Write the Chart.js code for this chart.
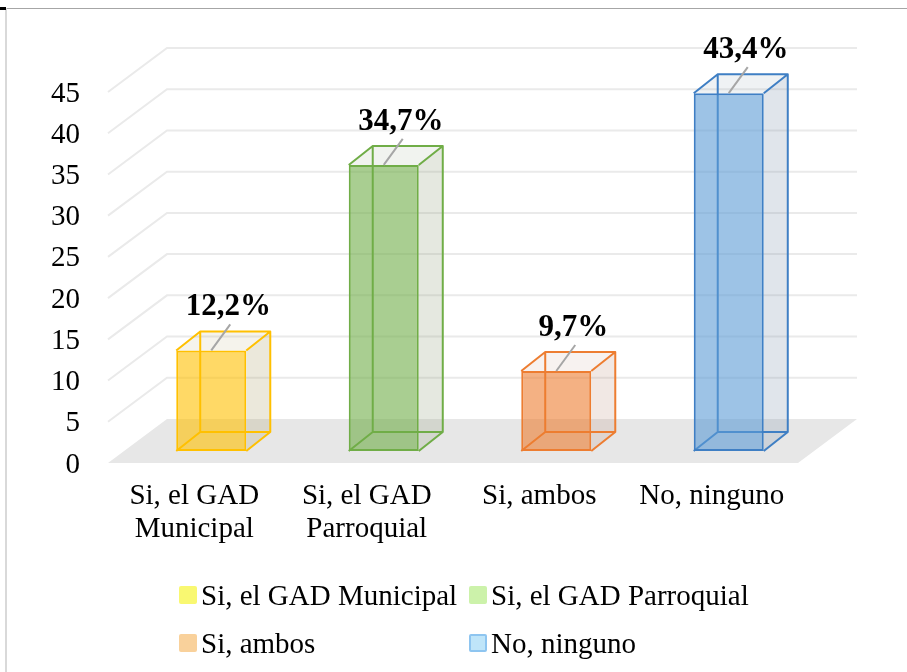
<!DOCTYPE html>
<html lang="es">

<head>
    <meta charset="UTF-8">
    <title>Gráfico de barras 3D</title>
    <script src="https://cdn.jsdelivr.net/npm/chart.js"></script>
    <style>
        body {
            margin: 0;
            padding: 0;
            background: #fff;
        }

        .wrap {
            position: relative;
            width: 907px;
            height: 672px;
            overflow: hidden;
        }

        canvas {
            position: absolute;
            left: 0;
            top: 0;
        }

        .frame-top {
            position: absolute;
            left: 5px;
            top: 8px;
            right: 0;
            height: 1px;
            background: #A6A6A6;
        }

        .frame-left {
            position: absolute;
            left: 5px;
            top: 8px;
            bottom: 0;
            width: 2px;
            background: #D9D9D9;
        }

        .frame-mark {
            position: absolute;
            left: 0;
            top: 7px;
            width: 6px;
            height: 3px;
            background: #000;
        }

        .legend {
            position: absolute;
            left: 179px;
            top: 571px;
            display: grid;
            grid-template-columns: 290px auto;
            grid-auto-rows: 48px;
            font-family: "Liberation Serif", "Times New Roman", Times, serif;
            font-size: 29px;
            color: #000;
        }

        .item {
            display: flex;
            align-items: center;
            white-space: nowrap;
        }

        .box {
            width: 18px;
            height: 18px;
            border-radius: 2px;
            margin-right: 4px;
            box-sizing: border-box;
        }
    </style>
</head>

<body>
    <div class="wrap">
        <canvas id="grafico" width="907" height="672"></canvas>
        <div class="frame-top"></div>
        <div class="frame-left"></div>
        <div class="frame-mark"></div>
        <div class="legend" id="leyenda"></div>
    </div>

    <script>
        // datos
        const categorias = [['Si, el GAD', 'Municipal'], ['Si, el GAD', 'Parroquial'], 'Si, ambos', 'No, ninguno'];
        const nombres = ['Si, el GAD Municipal', 'Si, el GAD Parroquial', 'Si, ambos', 'No, ninguno'];
        const valores = [12.2, 34.7, 9.7, 43.4];
        const ejeY = { min: 0, max: 45, paso: 5 };

        // colores
        const bordes = ['#FFC000', '#70AD47', '#ED7D31', '#3F7FC4'];
        const rellenos = ['rgba(255,192,0,0.6)', 'rgba(112,173,71,0.6)', 'rgba(237,125,49,0.6)', 'rgba(91,155,213,0.6)'];
        const laterales = ['rgba(175,165,110,0.25)', 'rgba(150,165,130,0.25)', 'rgba(190,150,130,0.22)', 'rgba(140,160,180,0.27)'];
        const superiores = ['rgba(175,165,110,0.13)', 'rgba(150,165,130,0.13)', 'rgba(190,150,130,0.12)', 'rgba(140,160,180,0.14)'];
        const colorLeyenda = ['#F9F871', '#CCF2AA', '#F9D19B', '#BFE5F9'];

        const FUENTE = '"Liberation Serif", "Times New Roman", Times, serif';

        // desplazamientos de la perspectiva (px)
        const FRENTE = [-17, 12];   // plano frontal (suelo, etiquetas)
        const FONDO = [42, -32];    // pared del fondo
        const PROF = [24, -19];     // profundidad de cada barra

        // suelo, cuadrícula y caras traseras de las cajas
        const caja3d = {
            id: 'caja3d',
            beforeDatasetsDraw(chart) {
                const ctx = chart.ctx;
                const a = chart.chartArea;
                const ys = chart.scales.y;
                const y0 = ys.getPixelForValue(0);
                ctx.save();

                // suelo
                ctx.fillStyle = '#E7E7E7';
                ctx.beginPath();
                ctx.moveTo(a.left + FRENTE[0], y0 + FRENTE[1]);
                ctx.lineTo(a.right + FRENTE[0], y0 + FRENTE[1]);
                ctx.lineTo(a.right + FONDO[0], y0 + FONDO[1]);
                ctx.lineTo(a.left + FONDO[0], y0 + FONDO[1]);
                ctx.closePath();
                ctx.fill();

                // líneas de cuadrícula (pared lateral + fondo)
                ctx.strokeStyle = '#EAEAEA';
                ctx.lineWidth = 2;
                ys.ticks.forEach(t => {
                    if (t.value === 0) return;
                    const py = ys.getPixelForValue(t.value);
                    ctx.beginPath();
                    ctx.moveTo(a.left + FRENTE[0], py + FRENTE[1]);
                    ctx.lineTo(a.left + FONDO[0], py + FONDO[1]);
                    ctx.lineTo(a.right + FONDO[0], py + FONDO[1]);
                    ctx.stroke();
                });

                // cajas
                const meta = chart.getDatasetMeta(0);
                meta.data.forEach((bar, i) => {
                    const p = bar.getProps(['x', 'y', 'base', 'width'], true);
                    const l = p.x - p.width / 2;
                    const r = p.x + p.width / 2;
                    const top = p.y;
                    const base = p.base;
                    const dx = PROF[0], dy = PROF[1];

                    // cara derecha
                    ctx.fillStyle = laterales[i];
                    ctx.beginPath();
                    ctx.moveTo(r, top);
                    ctx.lineTo(r + dx, top + dy);
                    ctx.lineTo(r + dx, base + dy);
                    ctx.lineTo(r, base);
                    ctx.closePath();
                    ctx.fill();

                    // cara superior
                    ctx.fillStyle = superiores[i];
                    ctx.beginPath();
                    ctx.moveTo(l, top);
                    ctx.lineTo(r, top);
                    ctx.lineTo(r + dx, top + dy);
                    ctx.lineTo(l + dx, top + dy);
                    ctx.closePath();
                    ctx.fill();

                    // aristas
                    ctx.strokeStyle = bordes[i];
                    ctx.lineWidth = 2;
                    ctx.lineJoin = 'round';
                    ctx.beginPath();
                    ctx.rect(l + dx, top + dy, r - l, base - top);
                    ctx.moveTo(l, top); ctx.lineTo(l + dx, top + dy);
                    ctx.moveTo(r, top); ctx.lineTo(r + dx, top + dy);
                    ctx.moveTo(l, base); ctx.lineTo(l + dx, base + dy);
                    ctx.moveTo(r, base); ctx.lineTo(r + dx, base + dy);
                    ctx.stroke();
                });
                ctx.restore();
            },
            afterDatasetsDraw(chart) {
                const ctx = chart.ctx;
                const meta = chart.getDatasetMeta(0);
                ctx.save();
                meta.data.forEach((bar, i) => {
                    const p = bar.getProps(['x', 'y'], true);
                    // línea guía
                    ctx.strokeStyle = '#A6A6A6';
                    ctx.lineWidth = 2;
                    ctx.beginPath();
                    ctx.moveTo(p.x + 19, p.y - 26);
                    ctx.lineTo(p.x, p.y);
                    ctx.stroke();
                    // etiqueta
                    ctx.fillStyle = '#000';
                    ctx.font = 'bold 31px ' + FUENTE;
                    ctx.textAlign = 'center';
                    ctx.textBaseline = 'middle';
                    const txt = valores[i].toFixed(1).replace('.', ',') + '%';
                    ctx.fillText(txt, p.x + 17, p.y - 43);
                });
                ctx.restore();
            }
        };

        new Chart(document.getElementById('grafico'), {
            type: 'bar',
            data: {
                labels: categorias,
                datasets: [{
                    data: valores,
                    backgroundColor: rellenos,
                    borderColor: bordes,
                    borderWidth: 2,
                    borderSkipped: false,
                    categoryPercentage: 1,
                    barPercentage: 0.406
                }]
            },
            options: {
                responsive: false,
                animation: false,
                devicePixelRatio: 1,
                layout: { padding: { top: 80, right: 92, left: 0, bottom: 0 } },
                plugins: {
                    legend: { display: false },
                    tooltip: { enabled: false }
                },
                scales: {
                    x: {
                        grid: { display: false, drawTicks: false },
                        border: { display: false },
                        ticks: {
                            color: '#000',
                            font: { family: FUENTE, size: 29, lineHeight: 1.14 },
                            labelOffset: FRENTE[0],
                            padding: 29,
                            maxRotation: 0,
                            autoSkip: false
                        },
                        afterFit: s => { s.height = 221; }
                    },
                    y: {
                        min: ejeY.min,
                        max: ejeY.max,
                        grid: { display: false, drawTicks: false },
                        border: { display: false },
                        ticks: {
                            stepSize: ejeY.paso,
                            color: '#000',
                            font: { family: FUENTE, size: 29 },
                            padding: 45,
                            labelOffset: 14
                        },
                        afterFit: s => { s.width = 125; }
                    }
                }
            },
            plugins: [caja3d]
        });

        // leyenda en dos columnas
        const leyenda = document.getElementById('leyenda');
        nombres.forEach((n, i) => {
            const item = document.createElement('div');
            item.className = 'item';
            const box = document.createElement('span');
            box.className = 'box';
            box.style.background = colorLeyenda[i];
            if (i === 3) box.style.border = '2px solid #8EC5F0';
            item.appendChild(box);
            item.appendChild(document.createTextNode(n));
            leyenda.appendChild(item);
        });
    </script>
</body>

</html>
